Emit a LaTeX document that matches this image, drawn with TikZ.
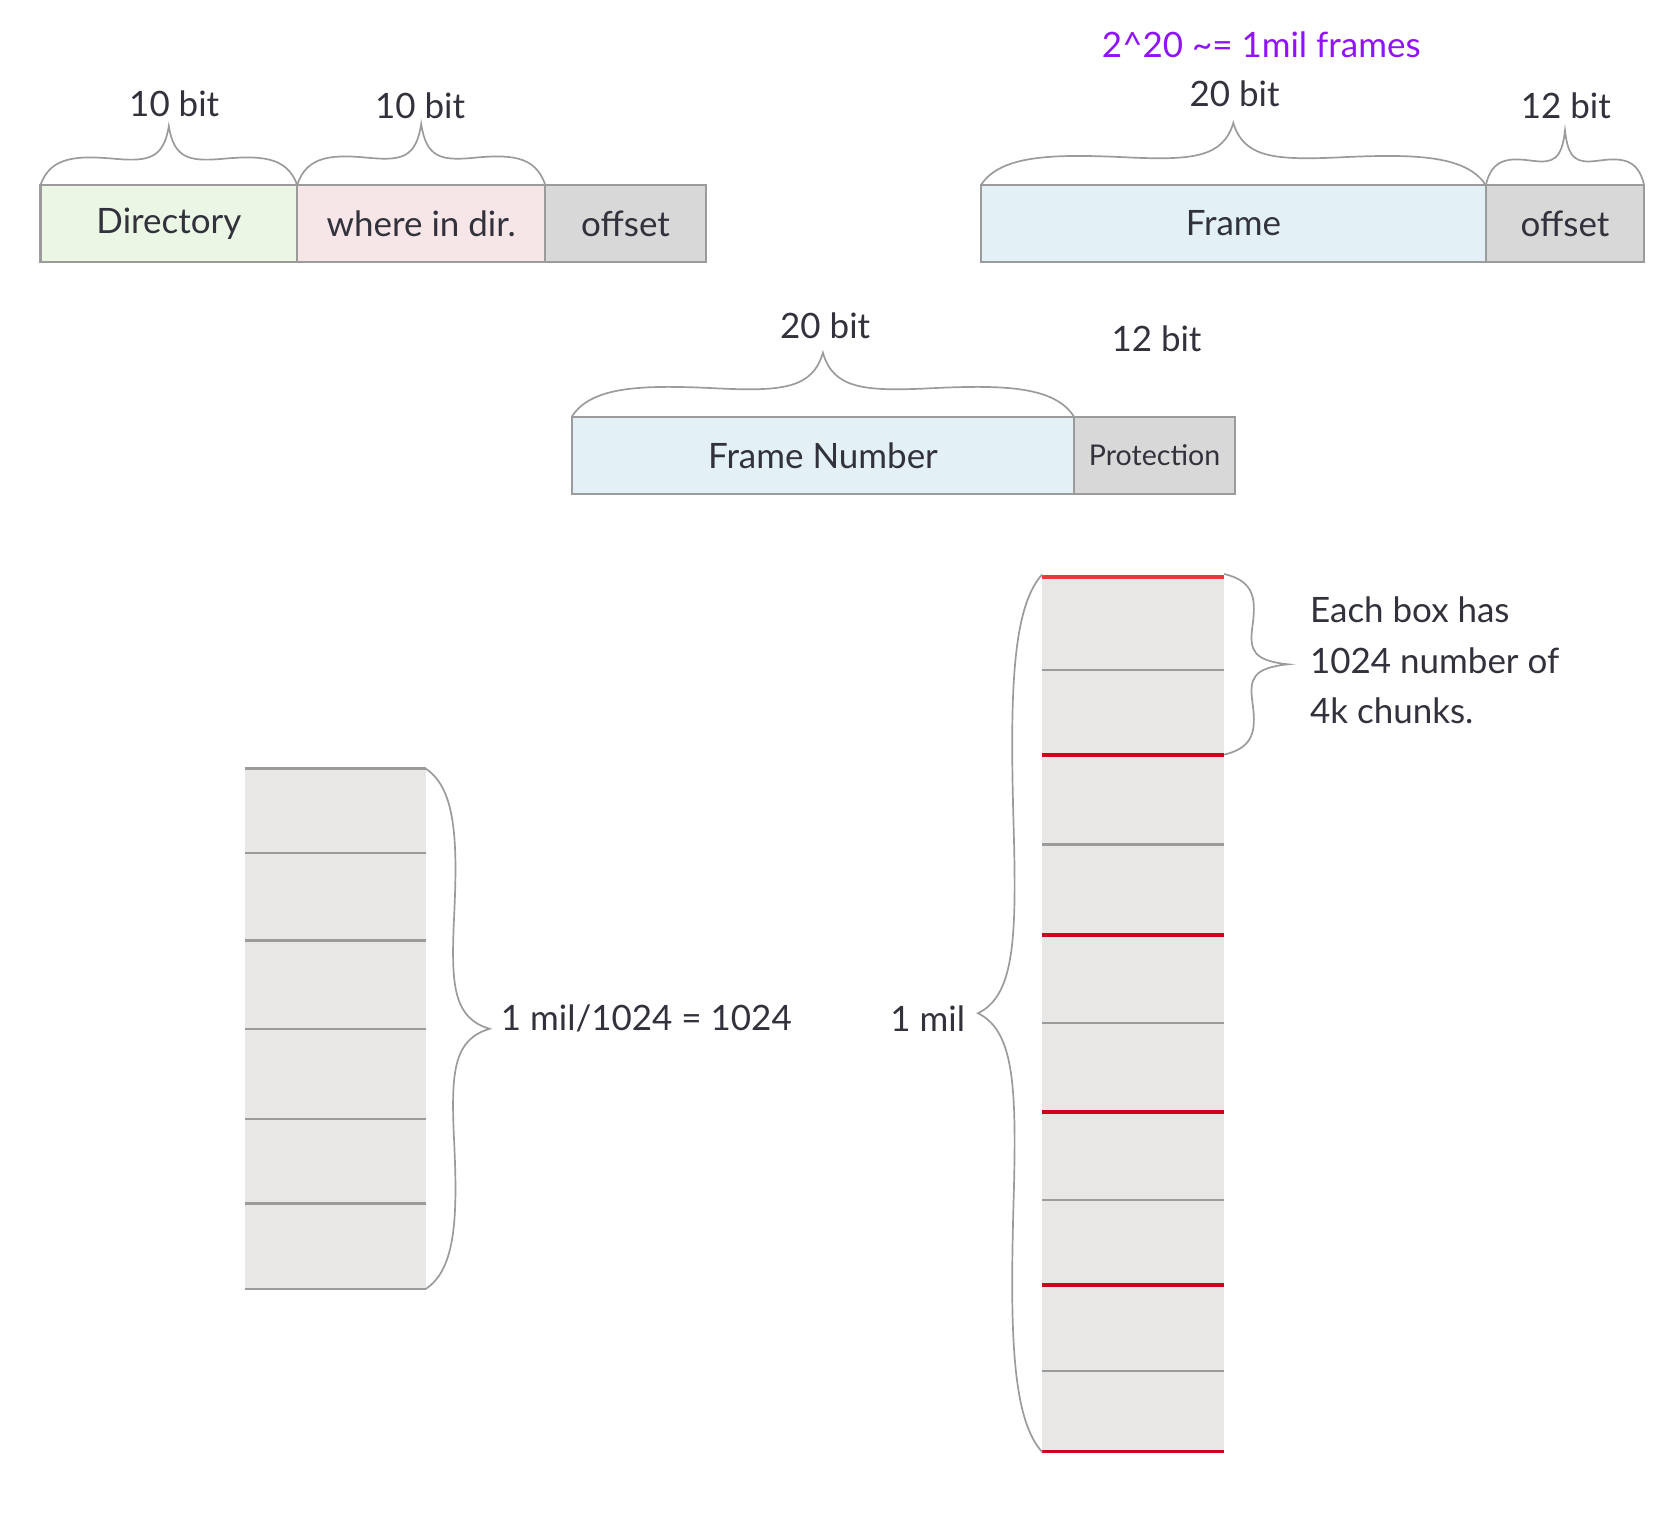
\documentclass[tikz,border=0pt]{standalone}
\usepackage{fontspec}
\setmainfont{Lato}
\usetikzlibrary{positioning,calc}

\definecolor{textdark}{RGB}{50,50,60}
\definecolor{boxline}{RGB}{155,155,155}
\definecolor{dirgreen}{RGB}{235,246,229}
\definecolor{wherepink}{RGB}{247,230,231}
\definecolor{offgray}{RGB}{216,216,216}
\definecolor{frameblue}{RGB}{227,241,246}
\definecolor{stackgray}{RGB}{232,231,230}
\definecolor{chunkred}{RGB}{208,2,27}
\definecolor{chunkredlight}{RGB}{236,56,56}
\definecolor{notepurple}{RGB}{144,19,254}

\tikzset{
  field/.style={draw=boxline, line width=0.6pt, minimum height=0.72cm, inner sep=0pt, outer sep=0pt,
    text=textdark, font=\fontsize{9.3}{11}\selectfont},
  bitlabel/.style={text=textdark, font=\fontsize{9.3}{11}\selectfont, inner sep=0pt},
  brace line/.style={draw=boxline, line width=0.45pt},
  stack/.style={fill=stackgray, inner sep=0pt, outer sep=0pt},
  row line/.style={draw=boxline, line width=0.6pt},
  chunk line/.style={draw=chunkred, line width=1pt},
}

\newcommand{\curly}[4]{%
  \begin{scope}[shift={(#1)}, rotate=#4]
    \draw[brace line] (0,0)
      .. controls ({0.04*#2},{-0.5*#3}) and ({0.15*#2},{-0.5*#3}) .. ({0.3*#2},{-0.44*#3})
      .. controls ({0.42*#2},{-0.4*#3}) and ({0.48*#2},{-0.45*#3}) .. ({0.5*#2},{-#3})
      .. controls ({0.52*#2},{-0.45*#3}) and ({0.58*#2},{-0.4*#3}) .. ({0.7*#2},{-0.44*#3})
      .. controls ({0.85*#2},{-0.5*#3}) and ({0.96*#2},{-0.5*#3}) .. (#2,0);
  \end{scope}}

\begin{document}
\begin{tikzpicture}[x=0.01cm, y=-0.01cm]
            \useasboundingbox (0,0) rectangle (1568,1430);

            \node [field, fill=dirgreen, minimum width=2.40cm] (dir) at (158,209) {Directory};
            \node [field, fill=wherepink, minimum width=2.32cm, right=0pt of dir] (where) {where in dir.};
            \node [field, fill=offgray, minimum width=1.50cm, right=0pt of where] (off1) {offset};

            \node [field, fill=frameblue, minimum width=4.72cm] (frame) at (1154,209) {Frame};
            \node [field, fill=offgray, minimum width=1.48cm, right=0pt of frame] (off2) {offset};

            \node [field, fill=frameblue, minimum width=4.70cm] (fnum) at (770,426) {Frame Number};
            \node [field, fill=offgray, minimum width=1.50cm, right=0pt of fnum,
                   font=\fontsize{7.6}{9}\selectfont] (prot) {Protection};

            \node [bitlabel] (dirbits) at (163,97) {10 bit};
            \node [bitlabel] (wherebits) at (393,99) {10 bit};
            \node [bitlabel, text=notepurple] (framenote) at (1180,42) {2\textasciicircum{}20 \textasciitilde= 1mil frames};
            \node [bitlabel] (framebits) at (1155,88) {20 bit};
            \node [bitlabel] (offbits) at (1465,99) {12 bit};
            \node [bitlabel] (fnumbits) at (772,305) {20 bit};
            \node [bitlabel] (protbits) at (1082,317) {12 bit};

            \curly{dir.north west}{240}{55}{0}
            \curly{where.north west}{232}{57}{0}
            \curly{frame.north west}{472}{58}{0}
            \curly{off2.north west}{148}{51}{0}
            \curly{fnum.north west}{470}{60}{0}

            \node [stack, minimum width=1.69cm, minimum height=4.87cm, anchor=north west] (dirtable) at (229,719) {};
            \foreach \y in {0,79,161,244,328,407,487}
                \draw [row line] ($(dirtable.north west)+(0,\y)$) -- ($(dirtable.north east)+(0,\y)$);

            \node [stack, minimum width=1.70cm, minimum height=8.18cm, anchor=north west] (frametable) at (975,540) {};
            \foreach \y in {87,250,417,583,743}
                \draw [row line] ($(frametable.north west)+(0,\y)$) -- ($(frametable.north east)+(0,\y)$);
            \foreach \y in {166,335,500,662,818}
                \draw [chunk line] ($(frametable.north west)+(0,\y)$) -- ($(frametable.north east)+(0,\y)$);
            \draw [chunk line, draw=chunkredlight] (frametable.north west) -- (frametable.north east);

            \curly{dirtable.north east}{487}{60}{-90}
            \curly{frametable.south west}{821}{60}{90}
            \curly{$(frametable.north east)+(0,-3)$}{169}{60}{-90}

            \node [bitlabel, anchor=west] (dircount) at (468,953) {1 mil/1024 = 1024};
            \node [bitlabel] (framecount) at (868,953) {1 mil};
            \node [bitlabel, anchor=west, align=left, font=\fontsize{9.3}{13.4}\selectfont] (boxnote) at (1225,618)
                {Each box has\\1024 number of\\4k chunks.};
        \end{tikzpicture}
\end{document}
